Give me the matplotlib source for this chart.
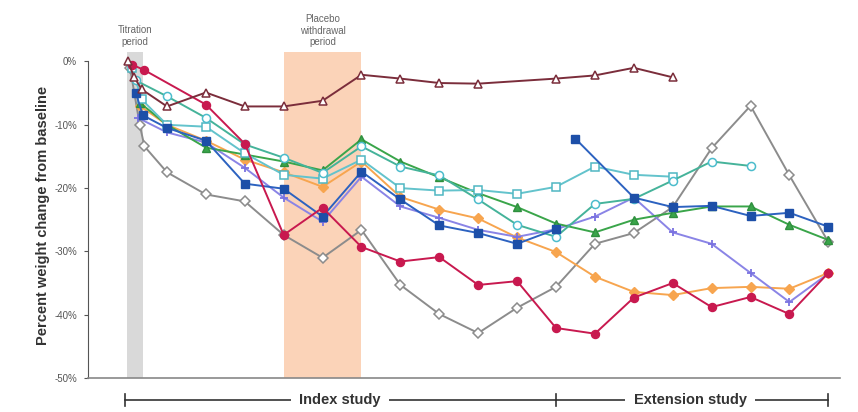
import numpy as np
import matplotlib
matplotlib.use("Agg")
import matplotlib.pyplot as plt
from matplotlib.transforms import blended_transform_factory

plt.rcParams['font.family'] = ['Liberation Sans', 'DejaVu Sans']

# ---- data (visit index on x, percent weight change on y) ----
nan = np.nan
tri_x = [0, 0.15, 0.35, 1, 2, 3, 4, 5, 6, 7, 8, 9, 11, 12, 13, 14]
tri_y = [0, -2.4, -4.4, -7.1, -4.9, -7.1, -7.1, -6.2, -2.1, -2.7, -3.4, -3.5, -2.7, -2.2, -1.0, -2.5]

crim_x = [0.1, 0.4, 2, 3, 4, 5, 6, 7, 8, 9, 10, 11, 12, 13, 14, 15, 16, 17, 18]
crim_y = [-0.5, -1.3, -6.8, -13.0, -27.4, -23.1, -29.3, -31.6, -30.9, -35.3, -34.7,
          -42.1, -43.0, -37.3, -35.0, -38.8, -37.2, -39.9, -33.4]

gray_x = [0.05, 0.3, 0.42, 1, 2, 3, 4, 5, 6, 7, 8, 9, 10, 11, 12, 13, 14, 15, 16, 17, 18]
gray_y = [-1.0, -10.0, -13.4, -17.5, -21.0, -22.1, -27.4, -31.0, -26.6, -35.3, -39.9,
          -42.9, -38.9, -35.6, -28.8, -27.1, -23.0, -13.7, -7.0, -18.0, -28.5]

blue_x = [0.2, 0.38, 1, 2, 3, 4, 5, 6, 7, 8, 9, 10, 11, 11.25, 11.5, 13, 14, 15, 16, 17, 18]
blue_y = [-5.0, -8.5, -10.5, -12.5, -19.3, -20.1, -24.5, -17.4, -21.8, -25.9, -27.1, -28.8,
          -26.5, nan, -12.2, -21.5, -23.0, -22.8, -24.4, -23.9, -26.1]

purp_x = [0.25, 1, 2, 3, 4, 5, 6, 7, 8, 9, 10, 11, 12, 13, 14, 15, 16, 17, 18]
purp_y = [-8.9, -11.2, -12.8, -16.8, -21.5, -25.3, -18.2, -22.9, -24.7, -26.6, -27.7,
          -26.5, -24.5, -21.5, -27.0, -28.8, -33.4, -38.0, -33.5]

orng_x = [0.3, 1, 2, 3, 4, 5, 6, 7, 8, 9, 10, 11, 12, 13, 14, 15, 16, 17, 18]
orng_y = [-7.0, -10.0, -12.5, -15.5, -17.5, -19.8, -15.8, -21.4, -23.4, -24.8, -27.8,
          -30.1, -34.0, -36.4, -36.9, -35.8, -35.6, -35.9, -33.4]

grn_x = [0.3, 1, 2, 3, 4, 5, 6, 7, 8, 9, 10, 11, 12, 13, 14, 15, 16, 17, 18]
grn_y = [-6.5, -10.0, -13.6, -14.7, -15.8, -17.2, -12.3, -15.8, -18.3, -20.8, -23.0,
         -25.6, -27.0, -25.0, -23.9, -22.9, -22.9, -25.8, -28.2]

teal_x = [0.2, 1, 2, 3, 4, 5, 6, 7, 8, 9, 10, 11, 12, 13, 14, 15, 16]
teal_y = [-3.0, -5.5, -8.9, -13.1, -15.2, -17.6, -13.4, -16.6, -18.0, -21.8, -25.8,
          -27.7, -22.5, -21.7, -18.8, -15.8, -16.5]

lsq_x = [0.1, 0.35, 1, 2, 3, 4, 5, 6, 7, 8, 9, 10, 11, 12, 13, 14]
lsq_y = [-1.0, -6.0, -10.0, -10.3, -14.5, -17.9, -18.5, -15.5, -20.0, -20.4, -20.3,
         -20.9, -19.8, -16.6, -17.9, -18.2]

yticks = [0, -10, -20, -30, -40, -50]
ytick_labels = ["0%", "-10%", "-20%", "-30%", "-40%", "-50%"]
titration_span = (-0.03, 0.38)
placebo_span = (4.0, 6.0)

# ---- figure ----
fig = plt.figure(figsize=(8.58, 4.12), dpi=100)
ax = fig.add_axes([88/858, 34/412, 752/858, 326/412])
ax.set_xlim(-1.03, 18.3)
ax.set_ylim(-50, 1.5)

ax.axvspan(*titration_span, color="#d9d9d9", zorder=0, lw=0)
ax.axvspan(*placebo_span, color="#fbd3b8", zorder=0, lw=0)

ms = 5.3
lw = 1.4
ax.plot(gray_x, gray_y, color="#8c8c8c", lw=lw, marker="D", ms=ms, mfc="white", mec="#8c8c8c", mew=1.1, zorder=3)
ax.plot(orng_x, orng_y, color="#f7a54f", lw=lw, marker="D", ms=ms-0.5, mfc="#f7a54f", mec="#f7a54f", zorder=3)
ax.plot(purp_x, purp_y, color="#8a84e6", lw=lw, marker="+", ms=ms+1, mec="#7a72e0", mew=1.3, zorder=3)
ax.plot(grn_x, grn_y, color="#3aa54a", lw=lw, marker="^", ms=ms, mfc="#3aa54a", mec="#2f8f3e", zorder=3)
ax.plot(lsq_x, lsq_y, color="#63c3cc", lw=lw, marker="s", ms=ms+0.5, mfc="white", mec="#4fb7c2", mew=1.1, zorder=3)
ax.plot(teal_x, teal_y, color="#45b39a", lw=lw, marker="o", ms=ms+0.5, mfc="white", mec="#4cbccc", mew=1.1, zorder=3)
ax.plot(blue_x, blue_y, color="#2c62c0", lw=lw, marker="s", ms=ms, mfc="#1d4fa8", mec="#1d4fa8", zorder=4)
ax.plot(crim_x, crim_y, color="#c8194f", lw=lw, marker="o", ms=ms+0.5, mfc="#c8194f", mec="#c8194f", zorder=4)
ax.plot(tri_x, tri_y, color="#7b2d3b", lw=lw, marker="^", ms=ms+1, mfc="white", mec="#7b2d3b", mew=1.1, zorder=5)

# axes styling
for s in ["top", "right"]:
    ax.spines[s].set_visible(False)
ax.spines["left"].set_bounds(-50, 0)
ax.spines["left"].set_color("#555555")
ax.spines["bottom"].set_color("#888888")
ax.spines["bottom"].set_linewidth(1.2)
ax.set_xticks([])
ax.set_yticks(yticks)
ax.set_yticklabels(ytick_labels, fontsize=7, color="#444444")
ax.tick_params(axis="y", length=3, width=0.8, colors="#555555", pad=5)
ax.set_ylabel("Percent weight change from baseline", fontsize=10.5, fontweight="bold",
              color="#333333", labelpad=3)

# period labels
trans = blended_transform_factory(ax.transData, ax.transAxes)
ax.text(sum(titration_span)/2, 1.015, "Titration\nperiod", transform=trans, ha="center",
        va="bottom", fontsize=7, color="#666666", linespacing=1.25)
ax.text(sum(placebo_span)/2, 1.015, "Placebo\nwithdrawal\nperiod", transform=trans, ha="center",
        va="bottom", fontsize=7, color="#666666", linespacing=1.2)

# study brackets
yb = -0.0675
th = 0.018
for x0, x1 in [(-0.08, 11), (11, 18)]:
    ax.plot([x0, x1], [yb, yb], transform=trans, color="#333333", lw=1.2, clip_on=False)
for xv in [-0.08, 11, 18]:
    ax.plot([xv, xv], [yb - th, yb + th], transform=trans, color="#333333", lw=1.2, clip_on=False)
ax.text(5.45, yb, "Index study", transform=trans, ha="center", va="center", fontsize=10.5,
        fontweight="bold", color="#333333",
        bbox=dict(facecolor="white", edgecolor="none", pad=6))
ax.text(14.45, yb, "Extension study", transform=trans, ha="center", va="center", fontsize=10.5,
        fontweight="bold", color="#333333",
        bbox=dict(facecolor="white", edgecolor="none", pad=6))

fig.savefig("out.png", dpi=100)
